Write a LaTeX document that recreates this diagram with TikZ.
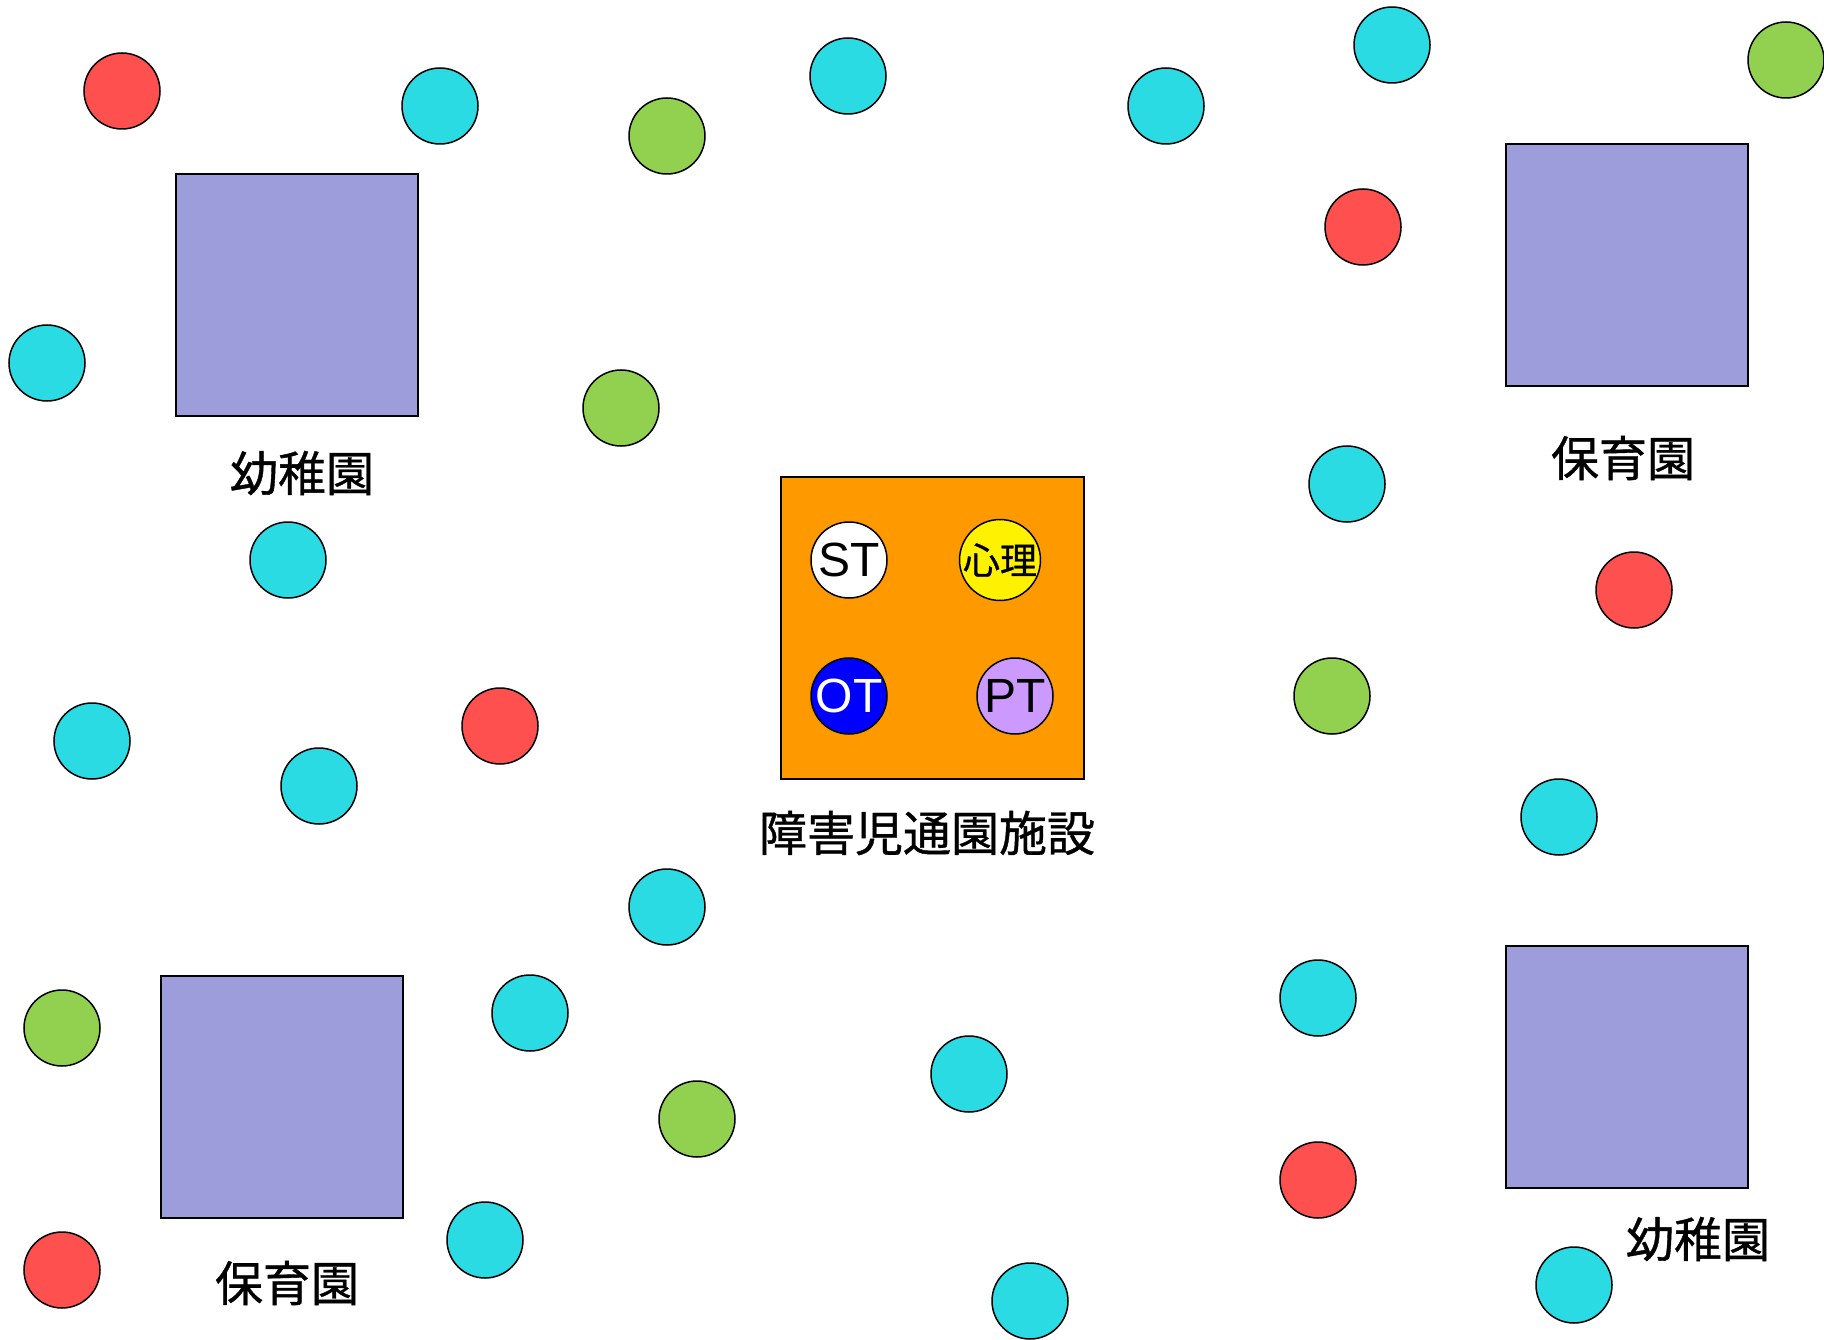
\documentclass[tikz,border=0pt]{standalone}
\usepackage{fontspec}
\setmainfont{Liberation Sans}
\newfontfamily\cjk[FakeBold=0.8]{Noto Sans CJK JP}
\usetikzlibrary{positioning}
\definecolor{kidred}{HTML}{FF5050}
\definecolor{kidcyan}{HTML}{2ADBE3}
\definecolor{kidgreen}{HTML}{92D050}
\definecolor{schoolblue}{HTML}{9E9DDC}
\definecolor{centerorange}{HTML}{FF9900}
\definecolor{ptpurple}{HTML}{CC99FF}

\begin{document}
\begin{tikzpicture}[x=1pt,y=-1pt,
  kid/.style={circle,draw=black,line width=1.5pt,minimum size=76pt,inner sep=0pt},
  staff/.style={kid,font=\fontsize{48}{56}\selectfont},
  school/.style={rectangle,draw=black,line width=1.5pt,fill=schoolblue,minimum size=242pt,inner sep=0pt},
  caption/.style={font=\cjk\fontsize{48}{56}\selectfont,inner sep=0pt}]
  \useasboundingbox (0,0) rectangle (1824,1340);
  % schools
  \node[school] (k1) at (297,295) {};
  \node[school] (h1) at (1627,265) {};
  \node[school] (h2) at (282,1097) {};
  \node[school] (k2) at (1627,1067) {};
  \node[caption] (k1-label) at (302,473) {幼稚園};
  \node[caption] (h1-label) at (1623,458) {保育園};
  \node[caption] (h2-label) at (287,1283) {保育園};
  \node[caption] (k2-label) at (1698,1239) {幼稚園};
  % center
  \node[rectangle,draw=black,line width=1.5pt,fill=centerorange,
        minimum width=303pt,minimum height=302pt,inner sep=0pt] (center) at (932.5,628) {};
  \node[caption] (center-label) at (927,833) {障害児通園施設};
  \node[staff,fill=white] (st) at (849,560) {ST};
  \node[kid,fill=yellow,font=\cjk\fontsize{37}{40}\selectfont] (psy) at (1000,560) {心理};
  \node[staff,fill=blue,text=white] (ot) at (849,696) {OT};
  \node[staff,fill=ptpurple] (pt) at (1015,696) {PT};
  % children
  \foreach \x/\y [count=\i] in {122/91,1363/227,1634/590,500/726,1318/1180,62/1270}
    \node[kid,fill=kidred] (red-\i) at (\x,\y) {};
  \foreach \x/\y [count=\i] in {440/106,848/76,1166/106,1392/45,47/363,288/560,1347/484,
      92/741,319/786,1559/817,667/907,530/1013,1318/998,969/1074,485/1240,1030/1301,1574/1285}
    \node[kid,fill=kidcyan] (cyan-\i) at (\x,\y) {};
  \foreach \x/\y [count=\i] in {1786/60,667/136,621/408,1332/696,62/1028,697/1119}
    \node[kid,fill=kidgreen] (green-\i) at (\x,\y) {};
\end{tikzpicture}
\end{document}
